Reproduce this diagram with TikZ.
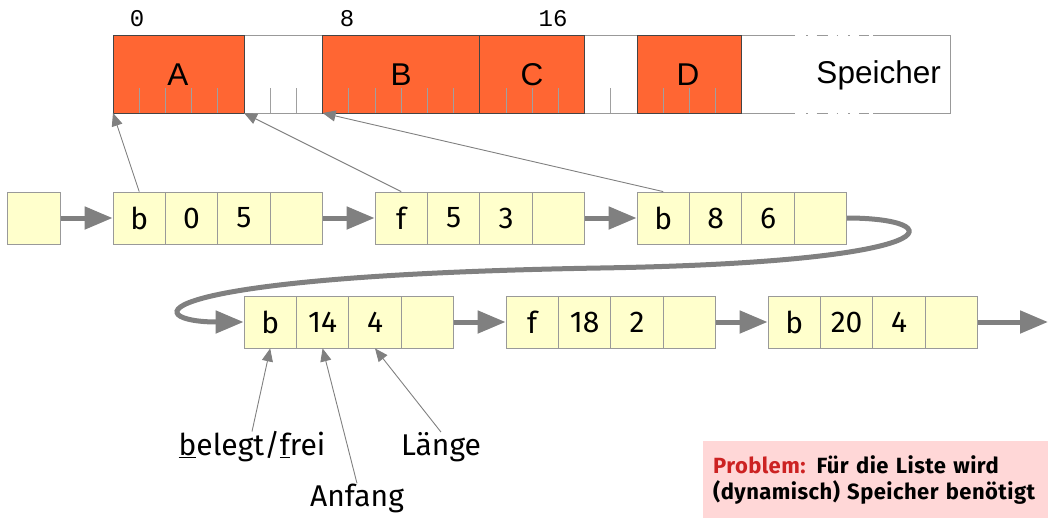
\documentclass[tikz,border=0pt]{standalone}
\usepackage{fontspec}
\setmainfont{Fira Sans}
\newfontfamily\memfont{Liberation Sans}
\newfontfamily\numfont{Liberation Mono}
\newfontfamily\probfont[LetterSpace=2]{Fira Sans}
\usetikzlibrary{arrows.meta}
\definecolor{memorange}{HTML}{FF6633}
\definecolor{memedge}{HTML}{444444}
\definecolor{memline}{HTML}{999999}
\definecolor{tickgray}{HTML}{A0A0A0}
\definecolor{cellyellow}{HTML}{FFFFCC}
\definecolor{cellgray}{HTML}{999999}
\definecolor{arrgray}{HTML}{808080}
\definecolor{probpink}{HTML}{FFD7D7}
\definecolor{probred}{HTML}{CC2222}
\def\memu{26.2}
\begin{document}
\begin{tikzpicture}[x=1pt,y=-1pt,
  cell/.style={draw=cellgray, fill=cellyellow, minimum width=52.4pt, minimum height=52pt,
    inner sep=0pt, line width=0.8pt, font=\fontsize{30}{32}\selectfont},
  memlbl/.style={font=\memfont\fontsize{31.5}{34}\selectfont, inner sep=0pt},
  numlbl/.style={font=\numfont\fontsize{24}{26}\selectfont, inner sep=0pt},
  lbl/.style={font=\fontsize{30}{32}\selectfont, inner sep=0pt},
  big/.style={draw=arrgray, line width=5pt, -{Triangle[length=28pt,width=22pt]}},
  ptr/.style={draw=arrgray, line width=0.9pt, -{Triangle[length=13pt,width=11pt]}},
  memln/.style={draw=memline, line width=1pt}
]
\useasboundingbox (0,0) rectangle (1048,517);

% memory bar
\draw[memln] (795,35) -- (113,35) -- (113,113) -- (795,113);
\draw[memln] (873,35) -- (950,35) -- (950,113) -- (873,113);
\draw[memln, dash pattern=on 1.5pt off 9pt on 11pt off 9pt on 1.5pt off 10pt on 1.5pt off 9.5pt on 10pt off 30pt] (806,35) -- (873,35);
\draw[memln, dash pattern=on 1.5pt off 9pt on 11pt off 9pt on 1.5pt off 10pt on 1.5pt off 9.5pt on 10pt off 30pt] (806,113) -- (873,113);
\foreach \a/\b in {0/5,8/14,14/18,20/24}
  \draw[draw=memedge, fill=memorange, line width=1pt] ({113+\a*\memu},35) rectangle ({113+\b*\memu},113);
\foreach \k in {1,2,3,4,6,7,9,10,11,12,13,15,16,17,19,21,22,23}
  \draw[draw=tickgray, line width=0.9pt] ({113+\k*\memu},88) -- ({113+\k*\memu},113);
\coordinate (m0) at (113,113);
\coordinate (m5) at ({113+5*\memu},113);
\coordinate (m8) at ({113+8*\memu},113);

\node[numlbl] (t0) at (137,19) {0};
\node[numlbl] (t8) at (347,19) {8};
\node[numlbl] (t16) at (553,19) {16};

\node[memlbl] (mA) at (178,75) {A};
\node[memlbl] (mB) at (401,75) {B};
\node[memlbl] (mC) at (532,75) {C};
\node[memlbl] (mD) at (688,75) {D};
\node[memlbl, anchor=east] (mS) at (941,75) {Speicher};

% row 1
\node[cell] (s0) at (34,218) {};
\node[cell] (n1a) at (139.2,218) {b};
\node[cell] (n1b) at (191.6,218) {0};
\node[cell] (n1c) at (244,218) {5};
\node[cell] (n1d) at (296.4,218) {};
\node[cell] (n2a) at (401.2,218) {f};
\node[cell] (n2b) at (453.6,218) {5};
\node[cell] (n2c) at (506,218) {3};
\node[cell] (n2d) at (558.4,218) {};
\node[cell] (n3a) at (663.2,218) {b};
\node[cell] (n3b) at (715.6,218) {8};
\node[cell] (n3c) at (768,218) {6};
\node[cell] (n3d) at (820.4,218) {};
% row 2
\node[cell] (n4a) at (270.2,322) {b};
\node[cell] (n4b) at (322.6,322) {14};
\node[cell] (n4c) at (375,322) {4};
\node[cell] (n4d) at (427.4,322) {};
\node[cell] (n5a) at (532.2,322) {f};
\node[cell] (n5b) at (584.6,322) {18};
\node[cell] (n5c) at (637,322) {2};
\node[cell] (n5d) at (689.4,322) {};
\node[cell] (n6a) at (794.2,322) {b};
\node[cell] (n6b) at (846.6,322) {20};
\node[cell] (n6c) at (899,322) {4};
\node[cell] (n6d) at (951.4,322) {};
\coordinate (endp) at (1048,322);

% list arrows
\draw[big] (s0.east) -- (n1a.west);
\draw[big] (n1d.east) -- (n2a.west);
\draw[big] (n2d.east) -- (n3a.west);
\draw[big] (n3d.east) .. controls (950,218) and (960,262) .. (600,268)
   .. controls (130,276) and (140,322) .. (n4a.west);
\draw[big] (n4d.east) -- (n5a.west);
\draw[big] (n5d.east) -- (n6a.west);
\draw[big] (n6d.east) -- (endp);

% pointers to memory
\draw[ptr] (n1a.north) -- (m0);
\draw[ptr] (n2a.north) -- (m5);
\draw[ptr] (n3a.north) -- (m8);

% labels
\node[lbl] (belegt) at (252,447) {\underline{b}elegt/\underline{f}rei};
\node[lbl] (anfang) at (357,498) {Anfang};
\node[lbl] (laenge) at (441,447) {Länge};
\draw[ptr] (belegt.north) -- (n4a.south);
\draw[ptr] (anfang.north) -- (n4b.south);
\draw[ptr] (laenge.north) -- (n4c.south);

% problem box
\node[fill=probpink, anchor=north west, minimum width=345pt, minimum height=77pt,
  inner xsep=10pt, text width=340pt, align=left,
  font=\probfont\bfseries\fontsize{22}{26}\selectfont] (prob) at (703,441)
  {\raisebox{0pt}[0pt][0pt]{}\textcolor{probred}{Problem:} Für die Liste wird\\(dynamisch) Speicher benötigt};
\end{tikzpicture}
\end{document}
